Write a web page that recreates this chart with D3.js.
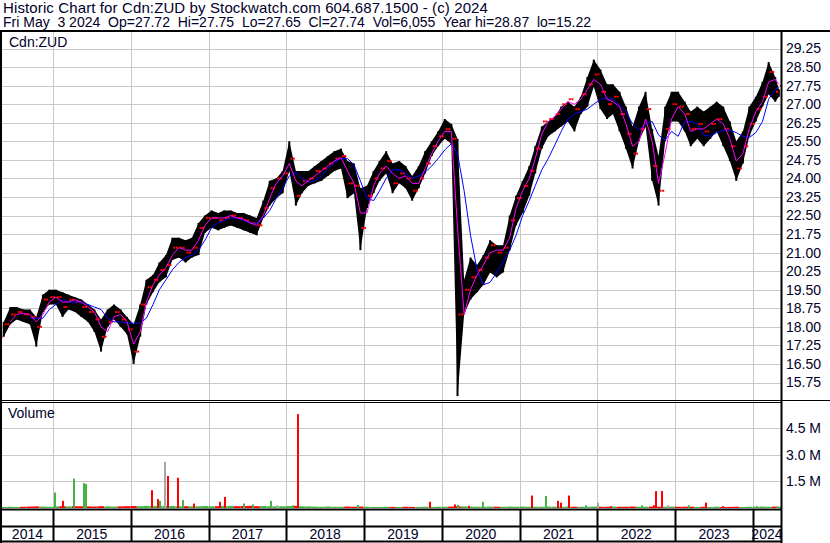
<!DOCTYPE html>
<html>
<head>
<meta charset="utf-8">
<script src="https://cdn.jsdelivr.net/npm/d3@7"></script>
<style>
body { margin: 0; background: #fff; }
svg { display: block; font-family: "Liberation Sans", Arial, sans-serif; }
</style>
</head>
<body>
<svg id="chart" width="830" height="543"></svg>
<script>
// monthly ranges, May 2014 .. May 2024
var firstMonth = new Date(2014, 4, 15);
var hi = [18.2,18.8,18.8,18.7,18.7,18.4,19.3,19.5,19.5,19.4,19.3,19.2,19.1,18.9,18.7,18.3,18.7,18.9,18.7,18.4,18.1,18.9,19.9,20.1,20.6,20.9,21.6,21.6,21.5,21.6,22.2,22.5,22.7,22.6,22.7,22.7,22.6,22.6,22.5,22.4,23.1,23.9,24.0,24.3,25.5,24.3,24.3,24.3,24.5,24.7,24.9,25.1,25.2,24.7,24.6,23.6,23.7,24.3,24.7,25.1,24.6,24.7,24.5,24.1,24.5,25.1,25.5,25.9,26.4,26.2,25.6,19.9,20.8,20.5,20.9,21.5,21.3,21.3,22.5,23.3,23.9,24.5,25.3,26.1,26.3,26.5,26.9,27.1,26.9,27.3,28.1,28.8,28.4,27.8,27.8,27.5,26.9,26.1,26.9,27.5,26.0,24.9,26.9,27.5,27.5,27.1,26.7,26.9,26.7,26.9,27.1,26.9,26.3,25.5,25.9,26.9,27.3,27.9,28.7,28.1,27.6];
var lo = [17.6,18.1,18.3,18.2,18.1,17.2,18.6,18.9,18.9,18.4,18.7,18.6,18.4,18.2,17.8,17.0,18.0,18.3,18.0,17.7,16.5,17.6,18.9,19.4,19.8,20.0,20.7,20.8,20.6,20.8,20.9,21.8,22.0,21.9,22.0,22.1,22.0,21.9,21.8,21.7,22.4,22.9,23.2,23.4,24.3,22.9,23.4,23.7,23.8,23.9,24.1,24.3,24.4,23.2,23.4,21.1,22.8,23.4,23.9,24.2,23.4,23.8,23.6,23.1,23.6,24.2,24.9,25.3,25.6,25.4,15.2,18.5,19.1,19.4,19.7,20.2,20.0,20.2,21.1,22.1,22.6,23.3,24.2,25.2,25.7,25.9,26.1,26.3,25.9,26.6,26.9,27.7,26.8,26.4,26.6,25.9,25.2,24.4,25.5,26.1,23.9,22.9,25.5,26.3,26.3,25.9,25.3,25.6,25.3,25.6,25.9,25.3,24.7,23.9,24.6,25.7,26.3,26.9,27.4,27.1,27.3];
var cl = [18.1,18.5,18.6,18.5,18.4,18.0,19.1,19.2,19.2,18.8,19.1,19.0,18.8,18.6,18.3,17.6,18.2,18.6,18.3,17.9,17.0,18.9,19.6,19.9,20.3,20.5,21.2,21.2,21.0,21.2,22.0,22.4,22.4,22.3,22.4,22.5,22.4,22.3,22.2,22.1,22.8,23.6,24.0,24.2,24.8,23.3,23.9,24.0,24.3,24.4,24.6,24.8,24.9,23.8,23.7,22.0,23.3,24.0,24.4,24.7,23.8,24.2,24.0,23.5,24.0,24.6,25.3,25.7,26.0,25.6,18.5,19.5,20.0,20.3,20.8,21.3,21.0,21.2,22.3,23.2,23.7,24.3,25.2,26.3,26.4,26.6,27.0,27.2,26.8,27.4,27.8,28.2,27.5,27.0,27.3,26.6,25.8,25.0,26.0,26.8,24.5,23.5,26.0,27.0,26.9,26.6,26.0,26.2,25.9,26.2,26.4,26.0,25.3,24.4,25.3,26.2,26.8,27.3,28.3,27.5,27.74];
var maFast = [null,18.2,18.5,18.55,18.5,18.2,18.5,19.0,19.2,19.0,19.0,19.1,19.0,18.8,18.6,18.0,17.8,18.4,18.5,18.2,17.3,17.8,19.0,19.7,20.1,20.4,20.9,21.2,21.1,21.1,21.5,22.1,22.4,22.4,22.4,22.5,22.4,22.35,22.2,22.1,22.5,23.2,23.8,24.1,24.6,23.9,23.7,23.9,24.1,24.3,24.5,24.7,24.85,24.3,23.8,22.6,22.6,23.7,24.2,24.5,24.2,24.0,24.1,23.8,23.8,24.4,25.0,25.5,25.9,25.9,22.0,18.5,19.5,20.1,20.5,21.0,21.1,21.1,21.6,22.8,23.5,24.0,24.8,25.8,26.3,26.5,26.8,27.1,27.0,27.2,27.6,28.0,27.8,27.2,27.1,26.9,26.2,25.3,25.5,26.4,25.5,23.8,25.0,26.4,26.9,26.6,25.9,26.0,26.0,26.2,26.4,26.2,25.6,24.7,25.0,26.0,26.7,27.1,27.9,28.0,27.8];
var maSlow = [null,null,null,null,18.35,18.35,18.35,18.7,18.9,19.1,19.0,19.0,19.0,18.9,18.8,18.7,18.35,18.2,18.2,18.15,18.15,18.15,18.35,18.9,19.5,19.9,20.3,20.6,20.8,20.9,21.1,21.5,22.0,22.2,22.3,22.4,22.4,22.3,22.2,22.2,22.4,22.7,23.2,23.6,24.1,24.25,24.0,23.85,23.9,24.1,24.4,24.65,24.8,24.8,24.55,23.9,23.2,23.1,23.5,24.0,24.35,24.35,24.2,24.0,24.1,24.25,24.5,24.8,25.15,25.4,25.0,23.5,21.7,20.3,19.7,19.8,20.2,20.6,21.1,21.7,22.5,23.1,23.7,24.35,24.8,25.35,25.9,26.4,26.6,26.7,26.8,27.0,27.2,27.25,27.2,26.95,26.7,26.2,25.95,26.2,26.3,25.75,25.55,25.9,25.7,26.3,26.3,26.2,25.75,25.7,25.85,25.95,25.95,25.85,25.7,25.65,25.85,26.3,27.2,27.6,27.7];
// small everyday volume (millions) per month
var volBase = [0.06,0.07,0.06,0.07,0.08,0.09,0.08,0.07,0.09,0.10,0.09,0.10,0.10,0.09,0.08,0.10,0.09,0.08,0.09,0.10,0.11,0.10,0.12,0.11,0.12,0.12,0.11,0.10,0.10,0.09,0.10,0.11,0.10,0.10,0.11,0.12,0.10,0.11,0.12,0.10,0.11,0.10,0.09,0.10,0.11,0.12,0.10,0.09,0.08,0.07,0.08,0.07,0.07,0.08,0.07,0.08,0.07,0.06,0.06,0.07,0.06,0.06,0.07,0.06,0.06,0.07,0.06,0.07,0.07,0.08,0.10,0.09,0.08,0.07,0.07,0.08,0.07,0.07,0.08,0.07,0.08,0.07,0.07,0.07,0.08,0.07,0.07,0.08,0.07,0.07,0.07,0.08,0.07,0.07,0.08,0.07,0.07,0.08,0.07,0.07,0.08,0.07,0.07,0.08,0.07,0.07,0.07,0.06,0.07,0.06,0.07,0.06,0.06,0.07,0.06,0.07,0.07,0.08,0.07,0.08,0.07];
// larger single-day volumes (millions)
var spikeDates = ["2015-01-13","2015-02-17","2015-04-08","2015-05-25","2015-06-04","2016-04-12","2016-05-10","2016-05-18","2016-06-09","2016-06-26","2016-08-12","2016-09-01","2016-10-26","2017-02-26","2017-03-18","2017-06-16","2017-07-29","2017-10-19","2017-11-18","2018-02-03","2018-02-25","2018-12-05","2019-11-09","2020-03-05","2020-03-17","2020-05-06","2020-07-12","2021-02-28","2021-05-06","2021-07-02","2021-07-12","2021-08-19","2021-11-08","2022-01-05","2022-03-08","2022-07-28","2022-09-23","2022-10-03","2022-11-02","2022-11-29","2023-03-09","2023-05-27","2023-08-14","2024-01-21"];
var spikeVols = [0.87,0.4,1.65,1.4,1.35,1.0,0.5,0.4,2.6,1.8,1.7,0.45,0.25,0.35,0.62,0.25,0.2,0.4,0.15,0.15,5.28,0.17,0.35,0.2,0.18,0.12,0.35,0.7,0.68,0.4,0.3,0.7,0.15,0.3,0.1,0.15,0.15,0.95,0.95,0.15,0.15,0.3,0.1,0.1];
var spikeColors = ["g","r","g","g","g","r","r","g","n","r","r","g","r","r","r","g","g","g","n","g","r","g","r","r","g","r","g","r","g","r","r","r","g","n","r","g","r","r","r","n","g","r","r","g"];
var priceTicks = [15.75,16.50,17.25,18.00,18.75,19.50,20.25,21.00,21.75,22.50,23.25,24.00,24.75,25.50,26.25,27.00,27.75,28.50,29.25];
var volTicks = [1.5,3.0,4.5];
var years = [2014,2015,2016,2017,2018,2019,2020,2021,2022,2023,2024];

var colorOf = {r: "#ff0000", g: "#44b544", n: "#a8a8a8"};
var textColor = "#00002a";
var gridColor = "#c8c8c8";

var svg = d3.select("#chart");
var left = 2, right = 781;

var x = d3.scaleTime()
  .domain([new Date(2014, 4, 7), new Date(2024, 4, 12)])
  .range([left, right]);
var y = d3.scaleLinear().domain([15.75, 29.25]).range([382.5, 48.5]);
var yv = d3.scaleLinear().domain([0, 4.5]).range([508, 428]);

var data = hi.map(function(h, i) {
  var d = i < hi.length - 1 ? d3.timeMonth.offset(firstMonth, i) : new Date(2024, 4, 2);
  return {date: d, hi: h, lo: lo[i], cl: cl[i], op: i > 0 ? cl[i - 1] : lo[i],
          fast: maFast[i], slow: maSlow[i], vol: volBase[i], up: i == 0 || cl[i] >= cl[i - 1]};
});

svg.append("rect").attr("width", 830).attr("height", 543).attr("fill", "#fff");

// header
svg.append("text").attr("x", 3).attr("y", 13).attr("font-size", 15).attr("letter-spacing", 0.12).attr("fill", textColor)
  .text("Historic Chart for Cdn:ZUD by Stockwatch.com 604.687.1500 - (c) 2024");
svg.append("text").attr("x", 3).attr("y", 27).attr("font-size", 14).attr("fill", textColor)
  .attr("xml:space", "preserve").style("white-space", "pre")
  .text("Fri May  3 2024  Op=27.72  Hi=27.75  Lo=27.65  Cl=27.74  Vol=6,055  Year hi=28.87  lo=15.22");

var yearStarts = years.slice(1).map(function(yr) { return new Date(yr, 0, 1); });

// grid
var grid = svg.append("g").attr("stroke", gridColor).attr("stroke-width", 1);
grid.selectAll(".hp").data(priceTicks).enter().append("line")
  .attr("x1", left).attr("x2", right)
  .attr("y1", function(d) { return Math.round(y(d)) + 0.5; })
  .attr("y2", function(d) { return Math.round(y(d)) + 0.5; });
grid.selectAll(".hv").data(volTicks).enter().append("line")
  .attr("x1", left).attr("x2", right)
  .attr("y1", function(d) { return Math.round(yv(d)) + 0.5; })
  .attr("y2", function(d) { return Math.round(yv(d)) + 0.5; });
grid.selectAll(".vy").data(yearStarts).enter().append("line")
  .attr("x1", function(d) { return Math.round(x(d)) + 0.5; })
  .attr("x2", function(d) { return Math.round(x(d)) + 0.5; })
  .attr("y1", 32).attr("y2", 509);

svg.append("text").attr("x", 9).attr("y", 47).attr("font-size", 14).attr("fill", textColor).text("Cdn:ZUD");
svg.append("text").attr("x", 8).attr("y", 418).attr("font-size", 14).attr("fill", textColor).text("Volume");

// price band: high-low range of each month, joined
var plot = svg.append("g");
plot.append("path").datum(data)
  .attr("d", d3.area()
    .x(function(d) { return x(d.date); })
    .y0(function(d) { return y(d.lo); })
    .y1(function(d) { return y(d.hi); }))
  .attr("fill", "#000");
plot.selectAll(".bar").data(data).enter().append("rect")
  .attr("x", function(d) { return x(d.date) - 1; })
  .attr("width", 2)
  .attr("y", function(d) { return y(d.hi); })
  .attr("height", function(d) { return y(d.lo) - y(d.hi); })
  .attr("fill", "#000");
plot.selectAll(".cl").data(data).enter().append("rect")
  .attr("x", function(d) { return x(d.date) + 1; })
  .attr("width", 2)
  .attr("y", function(d) { return y(d.cl) - 1; })
  .attr("height", 2)
  .attr("fill", "#ff0000");
plot.selectAll(".op").data(data).enter().append("rect")
  .attr("x", function(d) { return x(d.date) - 3; })
  .attr("width", 2)
  .attr("y", function(d) { return y(d.op) - 1; })
  .attr("height", 2)
  .attr("fill", "#ff0000");

var line = function(key) {
  return d3.line()
    .defined(function(d) { return d[key] != null; })
    .x(function(d) { return x(d.date); })
    .y(function(d) { return y(d[key]); });
};
plot.append("path").datum(data).attr("d", line("slow"))
  .attr("fill", "none").attr("stroke", "#0000ff").attr("stroke-width", 1);
plot.append("path").datum(data).attr("d", line("fast"))
  .attr("fill", "none").attr("stroke", "#ff00ff").attr("stroke-width", 1);

// volume
var vol = svg.append("g");
vol.selectAll(".vb").data(data).enter().append("rect")
  .attr("x", function(d) { return x(d.date) - 3.2; })
  .attr("width", 6.4)
  .attr("y", function(d) { return yv(d.vol); })
  .attr("height", function(d) { return yv(0) - yv(d.vol); })
  .attr("fill", function(d) { return d.up ? colorOf.g : colorOf.r; });
var parse = d3.timeParse("%Y-%m-%d");
vol.selectAll(".vs").data(spikeDates).enter().append("rect")
  .attr("x", function(d) { return Math.round(x(parse(d))) - 1; })
  .attr("width", 2)
  .attr("y", function(d, i) { return yv(spikeVols[i]); })
  .attr("height", function(d, i) { return yv(0) - yv(spikeVols[i]); })
  .attr("fill", function(d, i) { return colorOf[spikeColors[i]]; });

// frame
var frame = svg.append("g").attr("stroke", "#000");
frame.append("line").attr("x1", 0).attr("x2", 830).attr("y1", 31).attr("y2", 31).attr("stroke-width", 2);
frame.append("line").attr("x1", 1).attr("x2", 1).attr("y1", 30).attr("y2", 543).attr("stroke-width", 2);
frame.append("line").attr("x1", 781.5).attr("x2", 781.5).attr("y1", 30).attr("y2", 543).attr("stroke-width", 2);
frame.append("line").attr("x1", 0).attr("x2", 830).attr("y1", 400.5).attr("y2", 400.5);
frame.append("line").attr("x1", 0).attr("x2", 781).attr("y1", 402.5).attr("y2", 402.5);
frame.append("line").attr("x1", 0).attr("x2", 781).attr("y1", 509.5).attr("y2", 509.5).attr("stroke-width", 2);
frame.append("line").attr("x1", 0).attr("x2", 781).attr("y1", 526.5).attr("y2", 526.5).attr("stroke-width", 2);
frame.append("line").attr("x1", 0).attr("x2", 781).attr("y1", 541.5).attr("y2", 541.5).attr("stroke-width", 2);
frame.selectAll(".yl").data(yearStarts).enter().append("line")
  .attr("x1", function(d) { return Math.round(x(d)) + 0.5; })
  .attr("x2", function(d) { return Math.round(x(d)) + 0.5; })
  .attr("y1", 509).attr("y2", 542).attr("stroke-width", 2);

// year labels
var bounds = [x.range()[0]].concat(yearStarts.map(x)).concat([x.range()[1]]);
svg.selectAll(".yt").data(years).enter().append("text")
  .attr("x", function(d, i) { return (bounds[i] + bounds[i + 1]) / 2; })
  .attr("y", 539).attr("text-anchor", "middle").attr("font-size", 14).attr("fill", textColor)
  .text(function(d) { return d; });

// right axes
var ax = svg.append("g").attr("transform", "translate(783,0)")
  .call(d3.axisRight(y).tickValues(priceTicks).tickSize(0).tickPadding(3).tickFormat(d3.format(".2f")));
ax.select(".domain").remove();
ax.selectAll("text").attr("font-size", 14).attr("font-family", "Liberation Sans, Arial, sans-serif").attr("fill", textColor);
var axv = svg.append("g").attr("transform", "translate(783,0)")
  .call(d3.axisRight(yv).tickValues(volTicks).tickSize(0).tickPadding(3).tickFormat(function(d) { return d.toFixed(1) + " M"; }));
axv.select(".domain").remove();
axv.selectAll("text").attr("font-size", 14).attr("font-family", "Liberation Sans, Arial, sans-serif").attr("fill", textColor);
</script>
</body>
</html>
